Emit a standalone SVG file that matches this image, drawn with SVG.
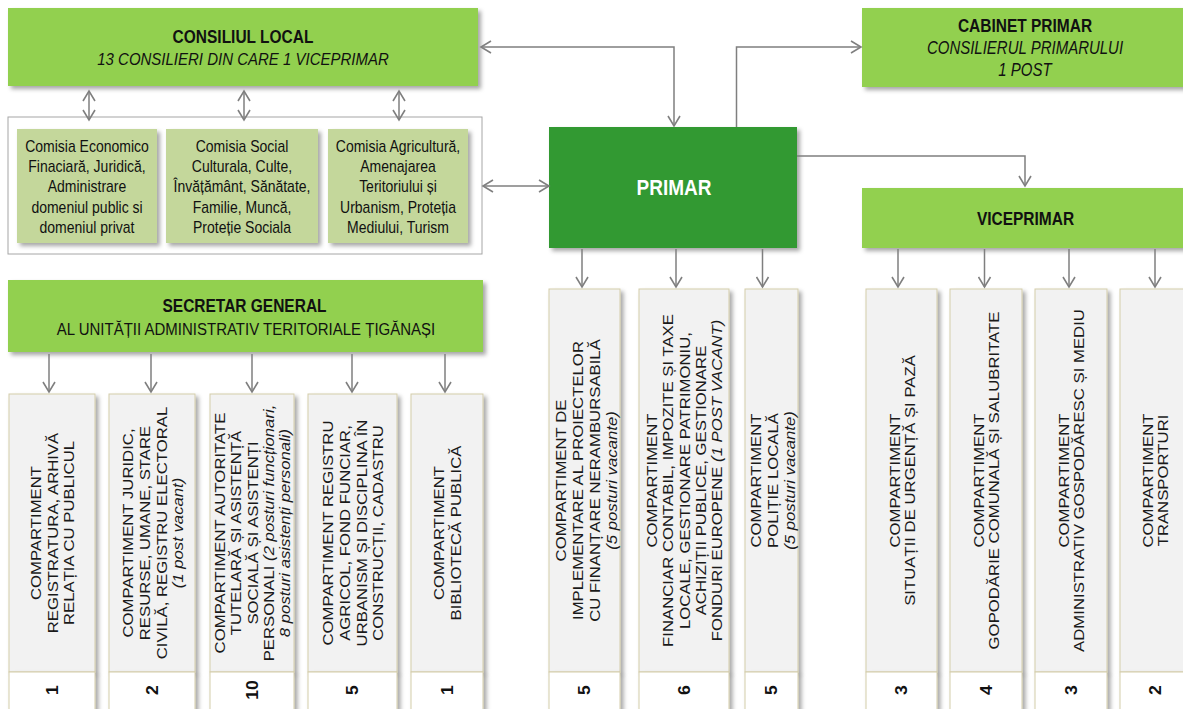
<svg xmlns="http://www.w3.org/2000/svg" width="1183" height="709" viewBox="0 0 1183 709">
<defs>
<style>
.lg{fill:#92D050}
.dg{fill:#339933}
.cm{fill:#C4D79B}
.ob{fill:#FFFFFF;stroke:#A6A6A6;stroke-width:1}
.vb{fill:#F2F2F2;stroke:#D4CDAA;stroke-width:1}
.nb{fill:#FFFFFF;stroke:#D4CDAA;stroke-width:1}
text{font-family:"Liberation Sans",Arial,sans-serif;fill:#111111}
.t{font-weight:bold;font-size:15.5px;text-anchor:middle}
.s{font-size:15px;text-anchor:middle}
.i{font-style:italic}
.cx{font-size:14px;text-anchor:middle}
.vt{font-size:15.5px;text-anchor:middle;fill:#1A1A1A}
.num{font-size:16px;font-weight:bold;text-anchor:middle}
.cn{fill:none;stroke:#7F7F7F;stroke-width:1.5}
</style>
<filter id="sh" x="-10%" y="-10%" width="130%" height="130%">
<feDropShadow dx="3" dy="3" stdDeviation="2" flood-color="#000" flood-opacity="0.35"/>
</filter>
<marker id="ah" viewBox="-12 -7 14 14" refX="0" refY="0" markerWidth="14" markerHeight="14" markerUnits="userSpaceOnUse" orient="auto-start-reverse">
<path d="M-10,-6 L0,0 L-10,6" fill="none" stroke="#7F7F7F" stroke-width="1.6"/>
</marker>
</defs>
<rect width="1183" height="709" fill="#FFFFFF"/>

<g id="consiliul-local">
<rect class="lg" x="8" y="8" width="470" height="78" filter="url(#sh)"/>
<text class="t" transform="translate(243,42.5) scale(1,1.15)">CONSILIUL LOCAL</text>
<text class="s i" transform="translate(243,65) scale(1,1.15)">13 CONSILIERI DIN CARE 1 VICEPRIMAR</text>
</g>

<g id="comisii">
<rect class="ob" x="8" y="117" width="474" height="137"/>
<g id="comisia-1">
<rect class="cm" x="17" y="129" width="140" height="114" filter="url(#sh)"/>
<text class="cx" transform="translate(87,151.5) scale(1,1.15)"><tspan x="0" y="0">Comisia Economico</tspan><tspan x="0" dy="17.74">Finaciară, Juridică,</tspan><tspan x="0" dy="17.74">Administrare</tspan><tspan x="0" dy="17.74">domeniul public si</tspan><tspan x="0" dy="17.74">domeniul privat</tspan></text>
</g>
<g id="comisia-2">
<rect class="cm" x="166" y="129" width="152" height="114" filter="url(#sh)"/>
<text class="cx" transform="translate(242,151.5) scale(1,1.15)"><tspan x="0" y="0">Comisia Social</tspan><tspan x="0" dy="17.74">Culturala, Culte,</tspan><tspan x="0" dy="17.74">Învățământ, Sănătate,</tspan><tspan x="0" dy="17.74">Familie, Muncă,</tspan><tspan x="0" dy="17.74">Proteție Sociala</tspan></text>
</g>
<g id="comisia-3">
<rect class="cm" x="328" y="129" width="140" height="114" filter="url(#sh)"/>
<text class="cx" transform="translate(398,151.5) scale(1,1.15)"><tspan x="0" y="0">Comisia Agricultură,</tspan><tspan x="0" dy="17.74">Amenajarea</tspan><tspan x="0" dy="17.74">Teritoriului și</tspan><tspan x="0" dy="17.74">Urbanism, Proteția</tspan><tspan x="0" dy="17.74">Mediului, Turism</tspan></text>
</g>
</g>

<g id="cabinet-primar">
<rect class="lg" x="862" y="8" width="330" height="79" filter="url(#sh)"/>
<text class="t" transform="translate(1025,31.5) scale(1,1.2)">CABINET PRIMAR</text>
<text class="s i" transform="translate(1025,53.5) scale(1,1.2)">CONSILIERUL PRIMARULUI</text>
<text class="s i" transform="translate(1025,76) scale(1,1.2)">1 POST</text>
</g>

<g id="primar">
<rect class="dg" x="549" y="127" width="248" height="121" filter="url(#sh)"/>
<text class="t" style="font-size:19px;fill:#FFFFFF" transform="translate(674,195) scale(1,1.15)">PRIMAR</text>
</g>

<g id="viceprimar">
<rect class="lg" x="862" y="188" width="330" height="60" filter="url(#sh)"/>
<text class="t" transform="translate(1025.5,225) scale(1,1.2)">VICEPRIMAR</text>
</g>

<g id="secretar-general">
<rect class="lg" x="8" y="280" width="475" height="72" filter="url(#sh)"/>
<text class="t" transform="translate(244.5,311.5) scale(1,1.15)">SECRETAR GENERAL</text>
<text class="s" transform="translate(246,335) scale(1,1.15)">AL UNITĂȚII ADMINISTRATIV TERITORIALE ȚIGĂNAȘI</text>
</g>

<!-- Secretar compartimente -->
<g id="sec-1">
<rect class="vb" x="9" y="394" width="86" height="278" filter="url(#sh)"/>
<rect class="nb" x="9" y="672" width="86" height="45" filter="url(#sh)"/>
<text class="vt" transform="translate(52,533) scale(1,1.08) rotate(-90)"><tspan x="0" y="-11.5">COMPARTIMENT</tspan><tspan x="0" y="5.5">REGISTRATURA, ARHIVĂ</tspan><tspan x="0" y="22.5">RELAȚIA CU PUBLICUL</tspan></text>
<text class="num" transform="translate(52,690) scale(1,1.1) rotate(-90)" y="5.5">1</text>
</g>
<g id="sec-2">
<rect class="vb" x="109" y="394" width="86" height="278" filter="url(#sh)"/>
<rect class="nb" x="109" y="672" width="86" height="45" filter="url(#sh)"/>
<text class="vt" transform="translate(152.5,533) scale(1,1.08) rotate(-90)"><tspan x="0" y="-20">COMPARTIMENT JURIDIC,</tspan><tspan x="0" y="-3">RESURSE, UMANE, STARE</tspan><tspan x="0" y="14">CIVILĂ, REGISTRU ELECTORAL</tspan><tspan x="0" y="31" class="i">(1 post vacant)</tspan></text>
<text class="num" transform="translate(152,690) scale(1,1.1) rotate(-90)" y="5.5">2</text>
</g>
<g id="sec-3">
<rect class="vb" x="210" y="394" width="84" height="278" filter="url(#sh)"/>
<rect class="nb" x="210" y="672" width="84" height="45" filter="url(#sh)"/>
<text class="vt" transform="translate(252,533) scale(1,1.08) rotate(-90)"><tspan x="0" y="-27.5">COMPARTIMENT AUTORITATE</tspan><tspan x="0" y="-11">TUTELARĂ ȘI ASISTENȚĂ</tspan><tspan x="0" y="5.5">SOCIALĂ ȘI ASISTENȚI</tspan><tspan x="0" y="22">PERSONALI <tspan class="i">(2 posturi funcționari,</tspan></tspan><tspan x="0" y="38.5" class="i">8 posturi asistenți personali)</tspan></text>
<text class="num" transform="translate(252,690) scale(1,1.1) rotate(-90)" y="5.5">10</text>
</g>
<g id="sec-4">
<rect class="vb" x="308" y="394" width="89" height="278" filter="url(#sh)"/>
<rect class="nb" x="308" y="672" width="89" height="45" filter="url(#sh)"/>
<text class="vt" transform="translate(352.5,533) scale(1,1.08) rotate(-90)"><tspan x="0" y="-20">COMPARTIMENT REGISTRU</tspan><tspan x="0" y="-3">AGRICOL, FOND FUNCIAR,</tspan><tspan x="0" y="14">URBANISM ȘI DISCIPLINA ÎN</tspan><tspan x="0" y="31">CONSTRUCȚII, CADASTRU</tspan></text>
<text class="num" transform="translate(352.5,690) scale(1,1.1) rotate(-90)" y="5.5">5</text>
</g>
<g id="sec-5">
<rect class="vb" x="411" y="394" width="72" height="278" filter="url(#sh)"/>
<rect class="nb" x="411" y="672" width="72" height="45" filter="url(#sh)"/>
<text class="vt" transform="translate(447,533) scale(1,1.08) rotate(-90)"><tspan x="0" y="-3.5">COMPARTIMENT</tspan><tspan x="0" y="14.5">BIBLIOTECĂ PUBLICĂ</tspan></text>
<text class="num" transform="translate(447,690) scale(1,1.1) rotate(-90)" y="5.5">1</text>
</g>

<!-- Primar compartimente -->
<g id="pri-1">
<rect class="vb" x="549" y="289" width="71" height="383" filter="url(#sh)"/>
<rect class="nb" x="549" y="672" width="71" height="45" filter="url(#sh)"/>
<text class="vt" transform="translate(586,480.5) scale(1,1.08) rotate(-90)"><tspan x="0" y="-20">COMPARTIMENT DE</tspan><tspan x="0" y="-3">IMPLEMENTARE AL PROIECTELOR</tspan><tspan x="0" y="14">CU FINANȚARE NERAMBURSABILĂ</tspan><tspan x="0" y="31" class="i">(5 posturi vacante)</tspan></text>
<text class="num" transform="translate(584.5,690) scale(1,1.1) rotate(-90)" y="5.5">5</text>
</g>
<g id="pri-2">
<rect class="vb" x="639" y="289" width="90" height="383" filter="url(#sh)"/>
<rect class="nb" x="639" y="672" width="90" height="45" filter="url(#sh)"/>
<text class="vt" transform="translate(684,480.5) scale(1,1.08) rotate(-90)"><tspan x="0" y="-27.5">COMPARTIMENT</tspan><tspan x="0" y="-11">FINANCIAR CONTABIL, IMPOZITE ȘI TAXE</tspan><tspan x="0" y="5.5">LOCALE, GESTIONARE PATRIMONIU,</tspan><tspan x="0" y="22">ACHIZIȚII PUBLICE, GESTIONARE</tspan><tspan x="0" y="38.5">FONDURI EUROPENE <tspan class="i">(1 POST VACANT)</tspan></tspan></text>
<text class="num" transform="translate(684,690) scale(1,1.1) rotate(-90)" y="5.5">6</text>
</g>
<g id="pri-3">
<rect class="vb" x="745" y="289" width="53" height="383" filter="url(#sh)"/>
<rect class="nb" x="745" y="672" width="53" height="45" filter="url(#sh)"/>
<text class="vt" transform="translate(772.5,480.5) scale(1,1.08) rotate(-90)"><tspan x="0" y="-11.5">COMPARTIMENT</tspan><tspan x="0" y="5.5">POLIȚIE LOCALĂ</tspan><tspan x="0" y="22.5" class="i">(5 posturi vacante)</tspan></text>
<text class="num" transform="translate(771.5,690) scale(1,1.1) rotate(-90)" y="5.5">5</text>
</g>

<!-- Viceprimar compartimente -->
<g id="vice-1">
<rect class="vb" x="866" y="289" width="71" height="383" filter="url(#sh)"/>
<rect class="nb" x="866" y="672" width="71" height="45" filter="url(#sh)"/>
<text class="vt" transform="translate(902,480.5) scale(1,1.08) rotate(-90)"><tspan x="0" y="-2">COMPARTIMENT</tspan><tspan x="0" y="13">SITUAȚII DE URGENȚĂ ȘI PAZĂ</tspan></text>
<text class="num" transform="translate(901.5,690) scale(1,1.1) rotate(-90)" y="5.5">3</text>
</g>
<g id="vice-2">
<rect class="vb" x="950" y="289" width="72" height="383" filter="url(#sh)"/>
<rect class="nb" x="950" y="672" width="72" height="45" filter="url(#sh)"/>
<text class="vt" transform="translate(986,480.5) scale(1,1.08) rotate(-90)"><tspan x="0" y="-2">COMPARTIMENT</tspan><tspan x="0" y="13">GOPODĂRIE COMUNALĂ ȘI SALUBRITATE</tspan></text>
<text class="num" transform="translate(986,690) scale(1,1.1) rotate(-90)" y="5.5">4</text>
</g>
<g id="vice-3">
<rect class="vb" x="1035" y="289" width="72" height="383" filter="url(#sh)"/>
<rect class="nb" x="1035" y="672" width="72" height="45" filter="url(#sh)"/>
<text class="vt" transform="translate(1071,480.5) scale(1,1.08) rotate(-90)"><tspan x="0" y="-2">COMPARTIMENT</tspan><tspan x="0" y="13">ADMINISTRATIV GOSPODĂRESC ȘI MEDIU</tspan></text>
<text class="num" transform="translate(1071,690) scale(1,1.1) rotate(-90)" y="5.5">3</text>
</g>
<g id="vice-4">
<rect class="vb" x="1120" y="289" width="72" height="383" filter="url(#sh)"/>
<rect class="nb" x="1120" y="672" width="72" height="45" filter="url(#sh)"/>
<text class="vt" transform="translate(1155,480.5) scale(1,1.08) rotate(-90)"><tspan x="0" y="-2">COMPARTIMENT</tspan><tspan x="0" y="13">TRANSPORTURI</tspan></text>
<text class="num" transform="translate(1155,690) scale(1,1.1) rotate(-90)" y="5.5">2</text>
</g>

<g id="connectors">
<path class="cn" d="M89,91 V120" marker-start="url(#ah)" marker-end="url(#ah)"/>
<path class="cn" d="M244,91 V120" marker-start="url(#ah)" marker-end="url(#ah)"/>
<path class="cn" d="M399,91 V120" marker-start="url(#ah)" marker-end="url(#ah)"/>
<path class="cn" d="M481,47 H674 V126" marker-start="url(#ah)" marker-end="url(#ah)"/>
<path class="cn" d="M736.5,127 V47 H861" marker-end="url(#ah)"/>
<path class="cn" d="M797,156 H1025 V186" marker-end="url(#ah)"/>
<path class="cn" d="M483,186 H549" marker-start="url(#ah)" marker-end="url(#ah)"/>
<path class="cn" d="M582,249 V287" marker-end="url(#ah)"/>
<path class="cn" d="M676,249 V287" marker-end="url(#ah)"/>
<path class="cn" d="M762.5,249 V287" marker-end="url(#ah)"/>
<path class="cn" d="M898,249 V287" marker-end="url(#ah)"/>
<path class="cn" d="M984.5,249 V287" marker-end="url(#ah)"/>
<path class="cn" d="M1069,249 V287" marker-end="url(#ah)"/>
<path class="cn" d="M1155,249 V287" marker-end="url(#ah)"/>
<path class="cn" d="M49,354 V392" marker-end="url(#ah)"/>
<path class="cn" d="M151,354 V392" marker-end="url(#ah)"/>
<path class="cn" d="M252,354 V392" marker-end="url(#ah)"/>
<path class="cn" d="M352,354 V392" marker-end="url(#ah)"/>
<path class="cn" d="M445,354 V392" marker-end="url(#ah)"/>
</g>
</svg>
